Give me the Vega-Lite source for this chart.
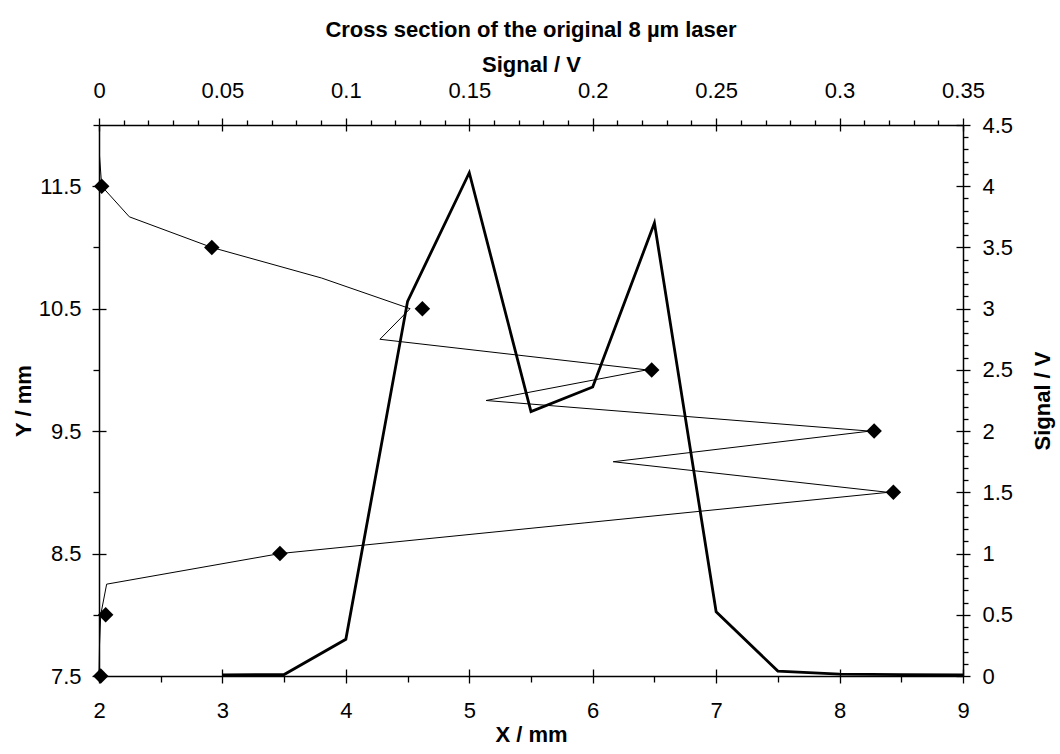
{
  "$schema": "https://vega.github.io/schema/vega-lite/v6.json",
  "width": 864,
  "height": 551,
  "autosize": "none",
  "padding": {"left": 99, "top": 125, "right": 97, "bottom": 78},
  "background": "white",
  "title": {
    "text": "Cross section of the original 8 µm laser",
    "font": "Liberation Sans",
    "fontSize": 22,
    "fontWeight": "bold",
    "color": "black",
    "anchor": "middle",
    "offset": 11
  },
  "config": {
    "view": {"stroke": null},
    "font": "Liberation Sans",
    "axis": {
      "grid": false,
      "domainColor": "black",
      "domainWidth": 1.5,
      "tickColor": "black",
      "tickWidth": 1.3,
      "labelFont": "Liberation Sans",
      "labelFontSize": 22,
      "labelColor": "black",
      "labelFlush": false,
      "labelOverlap": false,
      "titleFont": "Liberation Sans",
      "titleFontSize": 22,
      "titleFontWeight": "bold",
      "titleColor": "black"
    }
  },
  "datasets": {
    "thick": [
      {"x_mm": 3, "sig": 0.01},
      {"x_mm": 3.5, "sig": 0.012},
      {"x_mm": 4, "sig": 0.3},
      {"x_mm": 4.5, "sig": 3.06},
      {"x_mm": 5, "sig": 4.11},
      {"x_mm": 5.5, "sig": 2.16},
      {"x_mm": 6, "sig": 2.36},
      {"x_mm": 6.5, "sig": 3.7},
      {"x_mm": 7, "sig": 0.525},
      {"x_mm": 7.5, "sig": 0.04},
      {"x_mm": 8, "sig": 0.016},
      {"x_mm": 8.5, "sig": 0.012},
      {"x_mm": 9, "sig": 0.008}
    ],
    "thin": [
      {"y_mm": 11.75, "sig": 0.0002},
      {"y_mm": 11.5, "sig": 0.0011},
      {"y_mm": 11.25, "sig": 0.0123},
      {"y_mm": 11.0, "sig": 0.0457},
      {"y_mm": 10.75, "sig": 0.0902},
      {"y_mm": 10.5, "sig": 0.126},
      {"y_mm": 10.25, "sig": 0.1138},
      {"y_mm": 10.0, "sig": 0.2219},
      {"y_mm": 9.75, "sig": 0.1568},
      {"y_mm": 9.5, "sig": 0.3123},
      {"y_mm": 9.25, "sig": 0.2083},
      {"y_mm": 9.0, "sig": 0.3197},
      {"y_mm": 8.75, "sig": 0.1965},
      {"y_mm": 8.5, "sig": 0.0733},
      {"y_mm": 8.25, "sig": 0.0031},
      {"y_mm": 8.0, "sig": 0.0007},
      {"y_mm": 7.75, "sig": 0.0002},
      {"y_mm": 7.5, "sig": 0.0}
    ],
    "diamonds": [
      {"y_mm": 11.5, "sig": 0.0011},
      {"y_mm": 11.0, "sig": 0.0457},
      {"y_mm": 10.5, "sig": 0.131},
      {"y_mm": 10.0, "sig": 0.2239},
      {"y_mm": 9.5, "sig": 0.314},
      {"y_mm": 9.0, "sig": 0.3218},
      {"y_mm": 8.5, "sig": 0.0733},
      {"y_mm": 8.0, "sig": 0.0027},
      {"y_mm": 7.5, "sig": 0.0007}
    ]
  },
  "layer": [
    {
      "data": {"name": "thick"},
      "layer": [
        {
          "mark": {"type": "line", "color": "black", "strokeWidth": 2.8},
          "encoding": {
            "x": {
              "field": "x_mm", "type": "quantitative",
              "scale": {"domain": [2, 9], "nice": false, "zero": false},
              "axis": {"orient": "bottom", "title": "X / mm", "values": [2, 3, 4, 5, 6, 7, 8, 9], "format": ".3~g", "tickSize": 7, "labelPadding": 17, "titlePadding": 3}
            },
            "y": {
              "field": "sig", "type": "quantitative",
              "scale": {"domain": [0, 4.5], "nice": false, "zero": false},
              "axis": {"orient": "right", "title": "Signal / V", "titleAngle": 270, "values": [0, 0.5, 1, 1.5, 2, 2.5, 3, 3.5, 4, 4.5], "format": ".3~g", "tickSize": 7, "labelPadding": 12, "titlePadding": 42}
            }
          }
        },
        {
          "mark": {"type": "line", "opacity": 0},
          "encoding": {
            "x": {
              "field": "x_mm", "type": "quantitative",
              "scale": {"domain": [2, 9], "nice": false, "zero": false},
              "axis": {"orient": "bottom", "title": null, "labels": false, "domain": false, "values": [2.5, 3.5, 4.5, 5.5, 6.5, 7.5, 8.5], "tickSize": 6}
            },
            "y": {
              "field": "sig", "type": "quantitative",
              "scale": {"domain": [0, 4.5], "nice": false, "zero": false},
              "axis": {"orient": "right", "title": null, "labels": false, "domain": false, "values": [0.1, 0.2, 0.3, 0.4, 0.6, 0.7, 0.8, 0.9, 1.1, 1.2, 1.3, 1.4, 1.6, 1.7, 1.8, 1.9, 2.1, 2.2, 2.3, 2.4, 2.6, 2.7, 2.8, 2.9, 3.1, 3.2, 3.3, 3.4, 3.6, 3.7, 3.8, 3.9, 4.1, 4.2, 4.3, 4.4], "tickSize": 5}
            }
          }
        },
        {
          "mark": {"type": "line", "opacity": 0},
          "encoding": {
            "x": {
              "field": "x_mm", "type": "quantitative",
              "scale": {"domain": [2, 9], "nice": false, "zero": false},
              "axis": {"orient": "bottom", "title": null, "labels": false, "domain": false, "values": [2, 3, 4, 5, 6, 7, 8, 9], "tickSize": -7}
            },
            "y": {
              "field": "sig", "type": "quantitative",
              "scale": {"domain": [0, 4.5], "nice": false, "zero": false},
              "axis": {"orient": "right", "title": null, "labels": false, "domain": false, "values": [0, 0.5, 1, 1.5, 2, 2.5, 3, 3.5, 4, 4.5], "tickSize": -7}
            }
          }
        }
      ],
      "resolve": {"axis": {"x": "independent", "y": "independent"}}
    },
    {
      "layer": [
        {
          "data": {"name": "thin"},
          "mark": {"type": "line", "color": "black", "strokeWidth": 1},
          "encoding": {
            "x": {
              "field": "sig", "type": "quantitative",
              "scale": {"domain": [0, 0.35], "nice": false, "zero": false},
              "axis": {"orient": "top", "title": "Signal / V", "values": [0, 0.05, 0.1, 0.15, 0.2, 0.25, 0.3, 0.35], "format": ".3~g", "tickSize": 7, "labelPadding": 16, "titlePadding": 3}
            },
            "y": {
              "field": "y_mm", "type": "quantitative",
              "scale": {"domain": [7.5, 12], "nice": false, "zero": false},
              "axis": {"orient": "left", "title": "Y / mm", "values": [7.5, 8.5, 9.5, 10.5, 11.5], "format": ".3~g", "tickSize": 7, "labelPadding": 11, "titlePadding": 3}
            },
            "order": {"field": "y_mm", "sort": "descending"}
          }
        },
        {
          "data": {"name": "diamonds"},
          "mark": {"type": "point", "shape": "diamond", "filled": true, "color": "black", "opacity": 1, "size": 240},
          "encoding": {
            "x": {
              "field": "sig", "type": "quantitative",
              "scale": {"domain": [0, 0.35], "nice": false, "zero": false},
              "axis": {"orient": "top", "title": null, "labels": false, "domain": false, "values": [0.01, 0.02, 0.03, 0.04, 0.06, 0.07, 0.08, 0.09, 0.11, 0.12, 0.13, 0.14, 0.16, 0.17, 0.18, 0.19, 0.21, 0.22, 0.23, 0.24, 0.26, 0.27, 0.28, 0.29, 0.31, 0.32, 0.33, 0.34], "tickSize": 5}
            },
            "y": {
              "field": "y_mm", "type": "quantitative",
              "scale": {"domain": [7.5, 12], "nice": false, "zero": false},
              "axis": {"orient": "left", "title": null, "labels": false, "domain": false, "values": [8, 9, 10, 11, 12], "tickSize": 6}
            }
          }
        },
        {
          "data": {"name": "diamonds"},
          "mark": {"type": "point", "opacity": 0},
          "encoding": {
            "x": {
              "field": "sig", "type": "quantitative",
              "scale": {"domain": [0, 0.35], "nice": false, "zero": false},
              "axis": {"orient": "top", "title": null, "labels": false, "domain": false, "values": [0, 0.05, 0.1, 0.15, 0.2, 0.25, 0.3, 0.35], "tickSize": -6}
            },
            "y": {
              "field": "y_mm", "type": "quantitative",
              "scale": {"domain": [7.5, 12], "nice": false, "zero": false},
              "axis": {"orient": "left", "title": null, "labels": false, "domain": false, "values": [7.5, 8.5, 9.5, 10.5, 11.5], "tickSize": -7}
            }
          }
        }
      ],
      "resolve": {"axis": {"x": "independent", "y": "independent"}}
    }
  ],
  "resolve": {"scale": {"x": "independent", "y": "independent"}}
}
